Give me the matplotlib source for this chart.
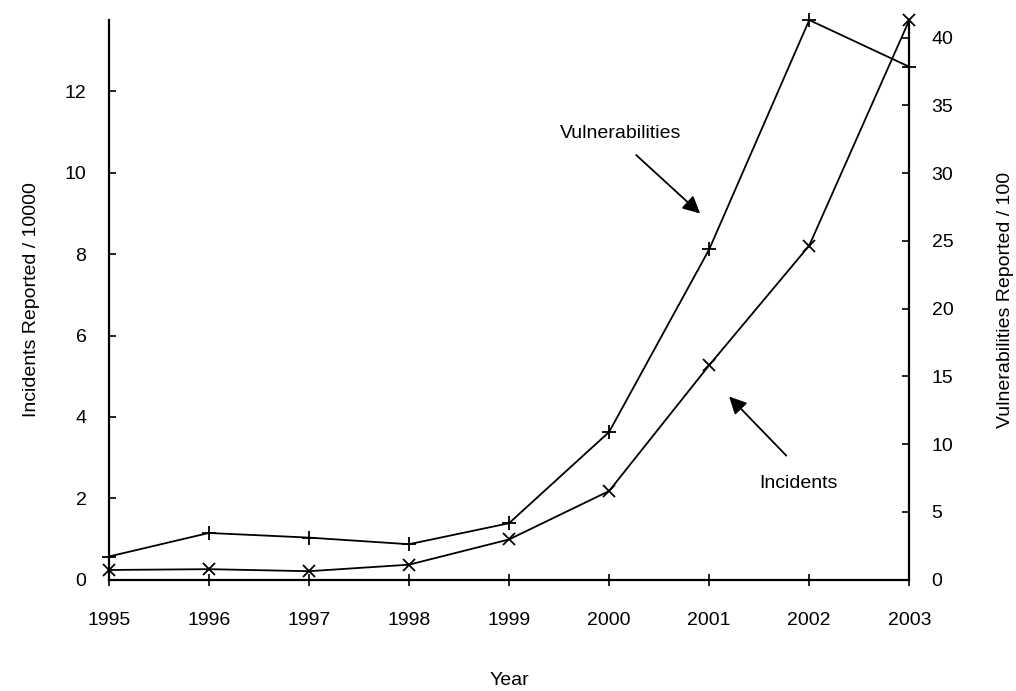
import matplotlib
matplotlib.use("Agg")
import matplotlib.pyplot as plt

plt.rcParams["font.family"] = ["Liberation Sans", "DejaVu Sans"]
plt.rcParams["font.size"] = 14

years = [1995, 1996, 1997, 1998, 1999, 2000, 2001, 2002, 2003]
incidents = [0.24, 0.26, 0.21, 0.37, 0.99, 2.18, 5.27, 8.21, 13.75]
vulnerabilities = [1.71, 3.45, 3.11, 2.62, 4.17, 10.90, 24.37, 41.29, 37.84]

fig = plt.figure(figsize=(10.16, 6.91), dpi=100)
ax1 = fig.add_axes([0.107, 0.161, 0.788, 0.810])
ax2 = ax1.twinx()

ax1.plot(years, incidents, color="black", lw=1.3, marker="x", ms=9, mew=1.3, clip_on=False)
ax2.plot(years, vulnerabilities, color="black", lw=1.3, marker="+", ms=10, mew=1.3, clip_on=False)

ax1.set_xlim(1995, 2003)
ax1.set_ylim(0, max(incidents))
ax2.set_ylim(0, max(vulnerabilities))
ax1.set_xticks(years)
ax1.set_yticks([0, 2, 4, 6, 8, 10, 12])
ax2.set_yticks([0, 5, 10, 15, 20, 25, 30, 35, 40])

for ax in (ax1, ax2):
    ax.spines["top"].set_visible(False)
    for s in ax.spines.values():
        s.set_linewidth(1.6)
ax1.spines["right"].set_visible(False)
ax2.spines["left"].set_visible(False)
ax2.spines["bottom"].set_visible(False)

ax1.tick_params(axis="y", direction="in", length=5, width=1.2, pad=16)
ax2.tick_params(axis="y", direction="in", length=5, width=1.2, pad=16)
ax1.tick_params(axis="x", direction="inout", length=8, width=1.2, pad=19)

ax1.set_xlabel("Year", labelpad=31)
ax1.set_ylabel("Incidents Reported / 10000", labelpad=18)
ax2.set_ylabel("Vulnerabilities Reported / 100", labelpad=31.5)

ax1.text(2000.11, 10.97, "Vulnerabilities", ha="center", va="center")
ax1.annotate("", xy=(2000.93, 8.95), xytext=(2000.25, 10.48),
             arrowprops=dict(arrowstyle="-|>", color="black", lw=1.3, mutation_scale=26))
ax1.text(2001.89, 2.36, "Incidents", ha="center", va="center")
ax1.annotate("", xy=(2001.18, 4.55), xytext=(2001.79, 3.0),
             arrowprops=dict(arrowstyle="-|>", color="black", lw=1.3, mutation_scale=26))

fig.savefig("out.png", dpi=100)
